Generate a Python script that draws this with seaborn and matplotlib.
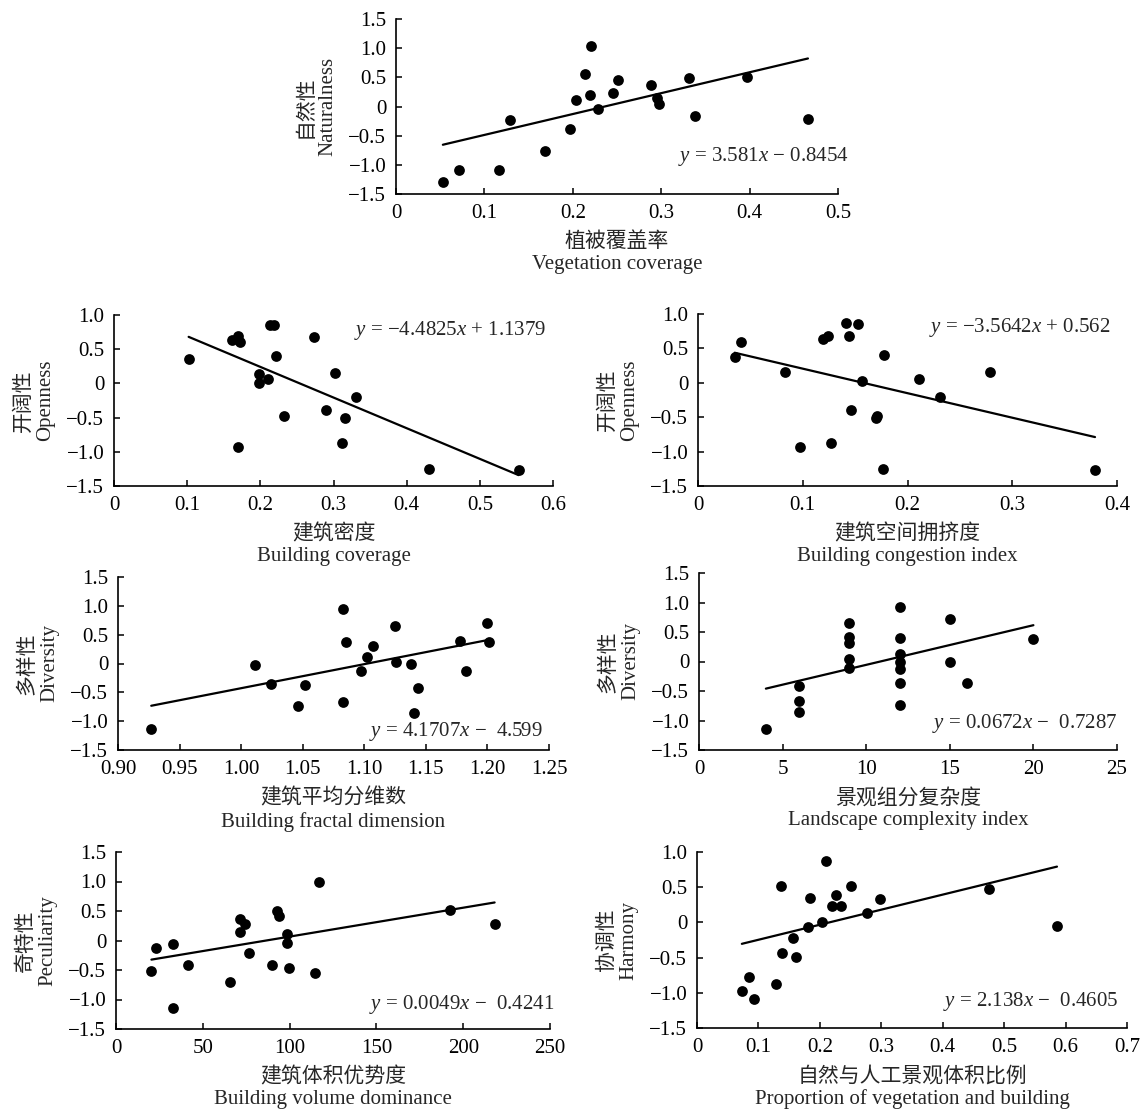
import numpy as np
import pandas as pd
import matplotlib
matplotlib.use('Agg')
import matplotlib.pyplot as plt
import seaborn as sns

# Panel data
veg_cov = [0.053, 0.071, 0.117, 0.129, 0.169, 0.197, 0.204, 0.214, 0.219, 0.221,
           0.228, 0.245, 0.251, 0.289, 0.295, 0.298, 0.332, 0.338, 0.397, 0.466]
naturalness = [-1.29, -1.09, -1.08, -0.23, -0.77, -0.39, 0.11, 0.55, 0.20, 1.04,
               -0.05, 0.24, 0.45, 0.37, 0.15, 0.05, 0.49, -0.16, 0.50, -0.22]

bld_cov = [0.102, 0.161, 0.170, 0.172, 0.170, 0.198, 0.198, 0.211, 0.213, 0.219,
           0.221, 0.232, 0.274, 0.290, 0.302, 0.311, 0.316, 0.331, 0.431, 0.553]
openness_cov = [0.36, 0.63, 0.69, 0.60, -0.93, 0.14, 0.01, 0.06, 0.85, 0.86,
                0.40, -0.48, 0.68, -0.39, 0.15, -0.87, -0.50, -0.20, -1.25, -1.26]

congestion = [0.035, 0.041, 0.083, 0.097, 0.119, 0.124, 0.127, 0.141, 0.144, 0.146,
              0.153, 0.157, 0.170, 0.171, 0.177, 0.178, 0.211, 0.231, 0.279, 0.379]
openness_cong = [0.37, 0.60, 0.15, -0.94, 0.63, 0.68, -0.87, 0.87, 0.68, -0.39,
                 0.85, 0.03, -0.51, -0.48, -1.26, 0.40, 0.06, -0.20, 0.16, -1.27]

fractal = [0.927, 1.011, 1.024, 1.046, 1.052, 1.083, 1.083, 1.085, 1.097, 1.102,
           1.107, 1.125, 1.126, 1.138, 1.140, 1.144, 1.178, 1.183, 1.200, 1.201]
diversity_frac = [-1.14, -0.02, -0.36, -0.74, -0.37, 0.94, -0.67, 0.38, -0.13, 0.11,
                  0.31, 0.65, 0.03, -0.01, -0.86, -0.42, 0.39, -0.13, 0.71, 0.37]

complexity = [4, 6, 6, 6, 9, 9, 9, 9, 9, 12, 12, 12, 12, 12, 12, 12, 15, 15, 16, 20]
diversity_comp = [-1.15, -0.41, -0.67, -0.86, 0.65, 0.41, 0.31, 0.05, -0.11, 0.92,
                  0.40, 0.13, 0.0, -0.13, -0.36, -0.74, 0.72, 0.0, -0.36, 0.38]

volume_dom = [20.4, 23.2, 32.6, 32.6, 41.5, 65.5, 71.3, 71.3, 74.5, 76.8,
              89.8, 92.8, 94.0, 98.7, 98.7, 99.4, 114.5, 116.8, 192.6, 218.1]
peculiarity = [-0.51, -0.13, -0.06, -1.15, -0.42, -0.71, 0.36, 0.14, 0.28, -0.22,
               -0.41, 0.50, 0.42, 0.11, -0.04, -0.46, -0.55, 1.00, 0.51, 0.28]

veg_bld_ratio = [0.073, 0.084, 0.092, 0.128, 0.136, 0.138, 0.157, 0.161, 0.181, 0.184,
                 0.204, 0.210, 0.220, 0.226, 0.235, 0.251, 0.276, 0.298, 0.476, 0.586]
harmony = [-0.97, -0.77, -1.09, -0.88, 0.52, -0.44, -0.22, -0.49, -0.07, 0.35,
           0.01, 0.87, 0.23, 0.39, 0.23, 0.51, 0.13, 0.33, 0.47, -0.05]

slopes = [3.581, -4.4825, -3.5642, 4.1707, 0.0672, 0.0049, 2.138]
intercepts = [-0.8454, 1.1379, 0.562, -4.599, -0.7287, -0.4241, -0.4605]
equations = [r'$y$ = 3.581$x$ − 0.8454',
             r'$y$ = −4.4825$x$ + 1.1379',
             r'$y$ = −3.5642$x$ + 0.562',
             r'$y$ = 4.1707$x$ −  4.599',
             r'$y$ = 0.0672$x$ −  0.7287',
             r'$y$ = 0.0049$x$ −  0.4241',
             r'$y$ = 2.138$x$ −  0.4605']

xlabels = ['植被覆盖率\nVegetation coverage',
           '建筑密度\nBuilding coverage',
           '建筑空间拥挤度\nBuilding congestion index',
           '建筑平均分维数\nBuilding fractal dimension',
           '景观组分复杂度\nLandscape complexity index',
           '建筑体积优势度\nBuilding volume dominance',
           '自然与人工景观体积比例\nProportion of vegetation and building']
ylabels = ['自然性\nNaturalness', '开阔性\nOpenness', '开阔性\nOpenness',
           '多样性\nDiversity', '多样性\nDiversity', '奇特性\nPeculiarity',
           '协调性\nHarmony']

xticks = [[0, 0.1, 0.2, 0.3, 0.4, 0.5],
          [0, 0.1, 0.2, 0.3, 0.4, 0.5, 0.6],
          [0, 0.1, 0.2, 0.3, 0.4],
          [0.90, 0.95, 1.00, 1.05, 1.10, 1.15, 1.20, 1.25],
          [0, 5, 10, 15, 20, 25],
          [0, 50, 100, 150, 200, 250],
          [0, 0.1, 0.2, 0.3, 0.4, 0.5, 0.6, 0.7]]
xticklabels = [['0', '0.1', '0.2', '0.3', '0.4', '0.5'],
               ['0', '0.1', '0.2', '0.3', '0.4', '0.5', '0.6'],
               ['0', '0.1', '0.2', '0.3', '0.4'],
               ['0.90', '0.95', '1.00', '1.05', '1.10', '1.15', '1.20', '1.25'],
               ['0', '5', '10', '15', '20', '25'],
               ['0', '50', '100', '150', '200', '250'],
               ['0', '0.1', '0.2', '0.3', '0.4', '0.5', '0.6', '0.7']]
yticks_full = [1.5, 1.0, 0.5, 0, -0.5, -1.0, -1.5]
ylabels_full = ['1.5', '1.0', '0.5', '0', '−0.5', '−1.0', '−1.5']
yticks_short = [1.0, 0.5, 0, -0.5, -1.0, -1.5]
ylabels_short = ['1.0', '0.5', '0', '−0.5', '−1.0', '−1.5']

panels = [(veg_cov, naturalness), (bld_cov, openness_cov), (congestion, openness_cong),
          (fractal, diversity_frac), (complexity, diversity_comp),
          (volume_dom, peculiarity), (veg_bld_ratio, harmony)]

sns.set_style('ticks')
plt.rcParams['font.family'] = ['Liberation Serif', 'Noto Sans CJK SC']
plt.rcParams['mathtext.fontset'] = 'custom'
plt.rcParams['mathtext.rm'] = 'Liberation Serif'
plt.rcParams['mathtext.it'] = 'Liberation Serif:italic'
plt.rcParams['axes.unicode_minus'] = True

W, H = 1142, 1113
fig = plt.figure(figsize=(W / 100, H / 100), dpi=100)

# axes boxes in pixels: left, right, top, bottom
boxes = [(396, 838, 19, 194), (114, 553, 315, 486), (698, 1117, 314, 486),
         (118, 549, 577, 750), (699, 1117, 573, 750), (116, 550, 852, 1029),
         (697, 1127, 852, 1028)]
eq_pos = [(1.025, 0.214), (0.985, 0.91), (0.985, 0.92), (0.985, 0.105),
          (1.0, 0.15), (1.01, 0.14), (0.98, 0.15)]

for i, (xs, ys) in enumerate(panels):
    l, r, t, b = boxes[i]
    ax = fig.add_axes([l / W, 1 - b / H, (r - l) / W, (b - t) / H])
    df = pd.DataFrame({'x': xs, 'y': ys})
    sns.scatterplot(data=df, x='x', y='y', ax=ax, color='black', s=60,
                    linewidth=0, zorder=3)
    lx = [min(xs), max(xs)]
    fit = pd.DataFrame({'x': lx, 'y': [slopes[i] * v + intercepts[i] for v in lx]})
    sns.lineplot(data=fit, x='x', y='y', ax=ax, color='black', lw=1.6)

    ax.set_xlim(xticks[i][0], xticks[i][-1])
    ax.set_xticks(xticks[i])
    ax.set_xticklabels(xticklabels[i])
    if i in (1, 2, 6):
        ax.set_ylim(-1.5, 1.0)
        ax.set_yticks(yticks_short)
        ax.set_yticklabels(ylabels_short)
    else:
        ax.set_ylim(-1.5, 1.5)
        ax.set_yticks(yticks_full)
        ax.set_yticklabels(ylabels_full)

    sns.despine(ax=ax)
    for s in ('left', 'bottom'):
        ax.spines[s].set_linewidth(1.2)
        ax.spines[s].set_color('black')
    ax.tick_params(direction='in', length=4, width=1.1, labelsize=15, pad=7,
                   colors='black')
    ax.set_xlabel(xlabels[i], fontsize=15, linespacing=1.2, labelpad=7)
    ax.set_ylabel(ylabels[i], fontsize=15, linespacing=1.2, labelpad=8)
    ax.text(eq_pos[i][0], eq_pos[i][1], equations[i], transform=ax.transAxes,
            ha='right', va='center', fontsize=15)

fig.savefig('out.png', dpi=100)
